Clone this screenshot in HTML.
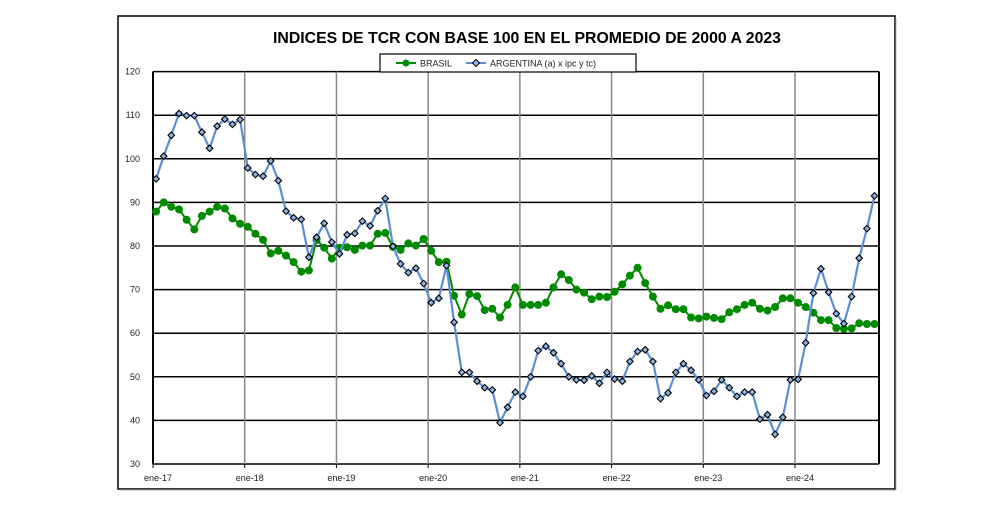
<!DOCTYPE html>
<html><head><meta charset="utf-8"><style>
html,body{margin:0;padding:0;background:#fff;}
svg{display:block;font-family:"Liberation Sans",sans-serif;}
</style></head><body>
<svg id="c" width="1000" height="525" viewBox="0 0 1000 525" xmlns="http://www.w3.org/2000/svg">
<rect x="118" y="16" width="777" height="473" fill="#fff" stroke="#000" stroke-width="1.5"/>
<line x1="896" y1="18" x2="896" y2="490" stroke="#bbb" stroke-width="1"/>
<line x1="120" y1="490" x2="896" y2="490" stroke="#bbb" stroke-width="1"/>
<text x="527" y="43" text-anchor="middle" font-size="16" font-weight="bold" textLength="508" lengthAdjust="spacingAndGlyphs">INDICES DE TCR CON BASE 100 EN EL PROMEDIO DE 2000 A 2023</text>
<g id="grid"></g>
<g id="series"></g>
<rect x="380" y="54" width="256" height="18" fill="#fff" stroke="#000" stroke-width="1.2"/>
<line x1="396" y1="63" x2="416" y2="63" stroke="#008a00" stroke-width="2"/>
<circle cx="406" cy="63" r="3.5" fill="#008a00"/>
<text x="420" y="66.5" font-size="9" fill="#222">BRASIL</text>
<line x1="466" y1="63" x2="486" y2="63" stroke="#5b8ed4" stroke-width="2"/>
<rect x="473.5" y="60.5" width="5" height="5" transform="rotate(45 476 63)" fill="#8fb4e3" stroke="#000" stroke-width="1"/>
<text x="490" y="66.5" font-size="9" fill="#222">ARGENTINA (a) x ipc y tc)</text>
</svg>
<script>
var X0=153,X1=879,Y0=464,SC=4.36,MW=7.643;
function Y(v){return Y0-(v-30)*SC;}
var g='';
for(var v=30;v<=120;v+=10){var y=Y(v);
 g+='<line x1="'+X0+'" y1="'+y+'" x2="'+X1+'" y2="'+y+'" stroke="#000" stroke-width="1.5"/>';
 g+='<text x="140" y="'+(y+3)+'" text-anchor="end" font-size="9" fill="#222">'+v+'</text>';}
var yrs=['17','18','19','20','21','22','23','24'];
for(var i=0;i<8;i++){var x=X0+i*12*MW;
 if(i>0)g+='<line x1="'+x+'" y1="'+Y(120)+'" x2="'+x+'" y2="'+Y0+'" stroke="#888" stroke-width="1.5"/>';
 g+='<line x1="'+x+'" y1="'+Y0+'" x2="'+x+'" y2="'+(Y0+4)+'" stroke="#000"/>';
 g+='<text x="'+(x+5)+'" y="'+(Y0+17)+'" text-anchor="middle" font-size="9" fill="#222">ene-'+yrs[i]+'</text>';}
g+='<line x1="'+X0+'" y1="'+Y(120)+'" x2="'+X0+'" y2="'+Y0+'" stroke="#000" stroke-width="2"/>';
g+='<line x1="'+X1+'" y1="'+Y(120)+'" x2="'+X1+'" y2="'+Y0+'" stroke="#000" stroke-width="2"/>';
document.getElementById('grid').innerHTML=g;
var br=[87.9,90,89,88.4,86,83.8,86.9,87.9,89,88.6,86.3,85.1,
84.4,82.8,81.4,78.3,78.9,77.8,76.3,74.1,74.4,81.4,79.6,77.1,
79.6,79.7,79.1,80.1,80.1,82.8,83,79.8,79.1,80.6,80.1,81.6,
78.9,76.3,76.4,68.6,64.3,69,68.5,65.3,65.6,63.6,66.5,70.5,
66.5,66.5,66.5,67,70.5,73.5,72.2,70,69.3,67.8,68.4,68.3,
69.5,71.2,73.2,75,71.5,68.4,65.6,66.4,65.5,65.5,63.6,63.4,
63.8,63.5,63.2,64.8,65.5,66.5,67,65.6,65.2,66,68,68,
67,66,64.7,63,63,61.2,61,61.1,62.3,62.1,62.1];
var ar=[95.4,100.6,105.4,110.4,109.9,109.9,106.1,102.4,107.5,109.1,107.9,109,
97.9,96.4,96,99.5,95,88,86.5,86.1,77.4,82,85.2,80.9,
78.2,82.6,82.9,85.7,84.6,88.1,90.9,79.9,75.9,73.9,74.9,71.4,
67,68,75.5,62.5,51,51,49,47.5,47,39.5,43,46.5,
45.5,50,56,57,55.5,53,50,49.3,49.2,50.2,48.5,51,
49.5,49,53.5,55.8,56.2,53.5,45,46.3,51,53,51.5,49.3,
45.7,46.7,49.3,47.5,45.5,46.5,46.5,40.3,41.3,36.8,40.7,49.3,
49.4,57.8,69.2,74.8,69.4,64.5,62.2,68.4,77.2,84,91.5];
function px(i){return X0+(i+0.4)*MW;}
function pts(a){return a.map(function(v,i){return px(i).toFixed(1)+','+Y(v).toFixed(1)}).join(' ');}
var s='<polyline points="'+pts(br)+'" fill="none" stroke="#008a00" stroke-width="2"/>';
br.forEach(function(v,i){s+='<circle cx="'+px(i).toFixed(1)+'" cy="'+Y(v).toFixed(1)+'" r="4" fill="#008a00"/>';});
s+='<polyline points="'+pts(ar)+'" fill="none" stroke="#5b8ed4" stroke-width="2.2"/>';
ar.forEach(function(v,i){var x=px(i),y=Y(v);s+='<rect x="'+(x-2.3).toFixed(1)+'" y="'+(y-2.3).toFixed(1)+'" width="4.6" height="4.6" transform="rotate(45 '+x.toFixed(1)+' '+y.toFixed(1)+')" fill="#8fb4e3" stroke="#000" stroke-width="1.1"/>';});
document.getElementById('series').innerHTML=s;
</script>
</body></html>
